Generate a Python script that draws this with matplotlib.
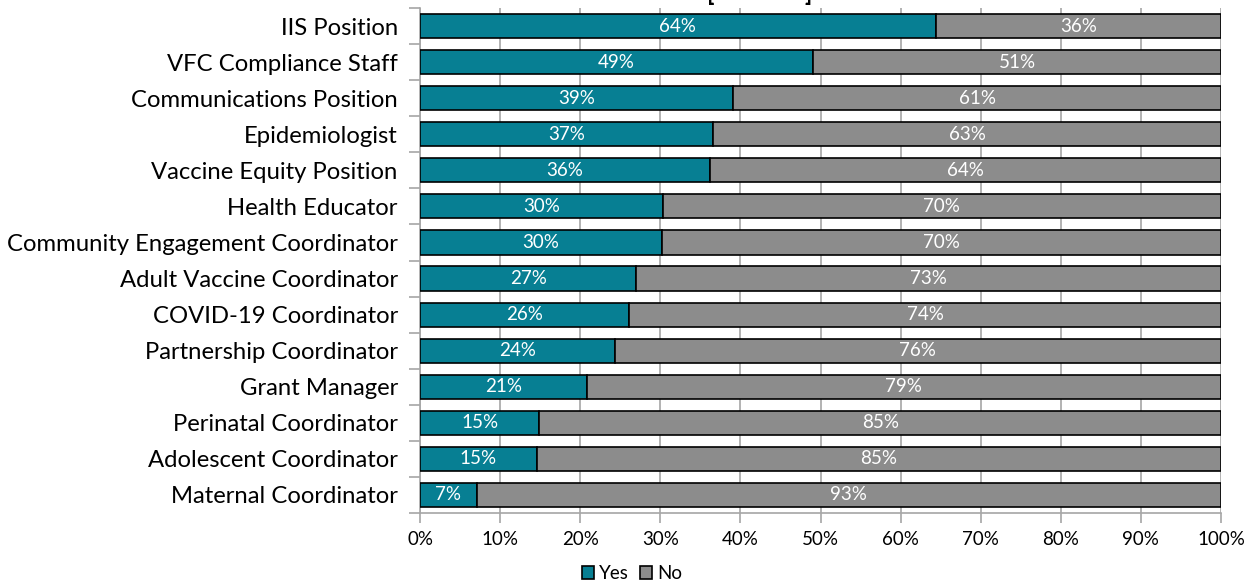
import numpy as np
import matplotlib.pyplot as plt
from matplotlib.ticker import MultipleLocator, PercentFormatter

plt.rcParams['font.family'] = ['Lato', 'DejaVu Sans']

positions = ["IIS Position", "VFC Compliance Staff", "Communications Position",
             "Epidemiologist", "Vaccine Equity Position", "Health Educator",
             "Community Engagement Coordinator", "Adult Vaccine Coordinator",
             "COVID-19 Coordinator", "Partnership Coordinator", "Grant Manager",
             "Perinatal Coordinator", "Adolescent Coordinator", "Maternal Coordinator"]
yes_pct = [64.4, 49.1, 39.1, 36.6, 36.2, 30.3, 30.2, 27.0, 26.1, 24.3, 20.8, 14.9, 14.6, 7.1]
no_pct = [100 - v for v in yes_pct]

TEAL = "#077f93"
GREY = "#8c8c8c"
AXIS_GREY = "#a6a6a6"

fig = plt.figure(figsize=(12.49, 5.8), dpi=100)
ax = fig.add_axes([420 / 1249, 1 - 513 / 580, 801 / 1249, 505 / 580])

y = np.arange(len(positions))
h = 0.67
ax.barh(y, yes_pct, height=h, color=TEAL, edgecolor="black", linewidth=1.2,
        label="Yes", zorder=3)
ax.barh(y, no_pct, left=yes_pct, height=h, color=GREY, edgecolor="black",
        linewidth=1.2, label="No", zorder=3)

for i in range(len(positions)):
    ax.text(yes_pct[i] / 2, y[i], f"{yes_pct[i]:.0f}%", color="white",
            ha="center", va="center", fontsize=13.5, zorder=4)
    ax.text(yes_pct[i] + no_pct[i] / 2, y[i], f"{no_pct[i]:.0f}%", color="white",
            ha="center", va="center", fontsize=13.5, zorder=4)

ax.set_xlim(0, 100)
ax.set_ylim(len(positions) - 0.5, -0.5)
ax.xaxis.set_major_locator(MultipleLocator(10))
ax.xaxis.set_major_formatter(PercentFormatter(decimals=0))
ax.set_yticks(y)
ax.set_yticklabels(positions, fontsize=17.2)
ax.set_yticks(np.arange(len(positions) + 1) - 0.5, minor=True)
ax.tick_params(axis="y", which="major", length=0, pad=16)
ax.tick_params(axis="y", which="minor", length=8, color=AXIS_GREY, width=1.2)
ax.tick_params(axis="x", length=7, color=AXIS_GREY, width=1.2, labelsize=13.5, pad=6)
ax.grid(axis="x", color=AXIS_GREY, linewidth=1.2, zorder=0)

for side in ["top", "right"]:
    ax.spines[side].set_visible(False)
for side in ["left", "bottom"]:
    ax.spines[side].set_color(AXIS_GREY)
    ax.spines[side].set_linewidth(1.2)

# title sits mostly above the canvas; only the bracket tails show
fig.text(707 / 1249, 1 - 1 / 580, "[", fontsize=17, fontweight="bold",
         ha="left", va="baseline")
fig.text(812 / 1249, 1 - 1 / 580, "]", fontsize=17, fontweight="bold",
         ha="right", va="baseline")

fig.legend(loc="lower center", bbox_to_anchor=(632 / 1249, -0.033), ncol=2,
           frameon=False, fontsize=13.5, handlelength=0.65, handleheight=0.65,
           handletextpad=0.25, columnspacing=0.6)

fig.savefig("out.png", dpi=100)
